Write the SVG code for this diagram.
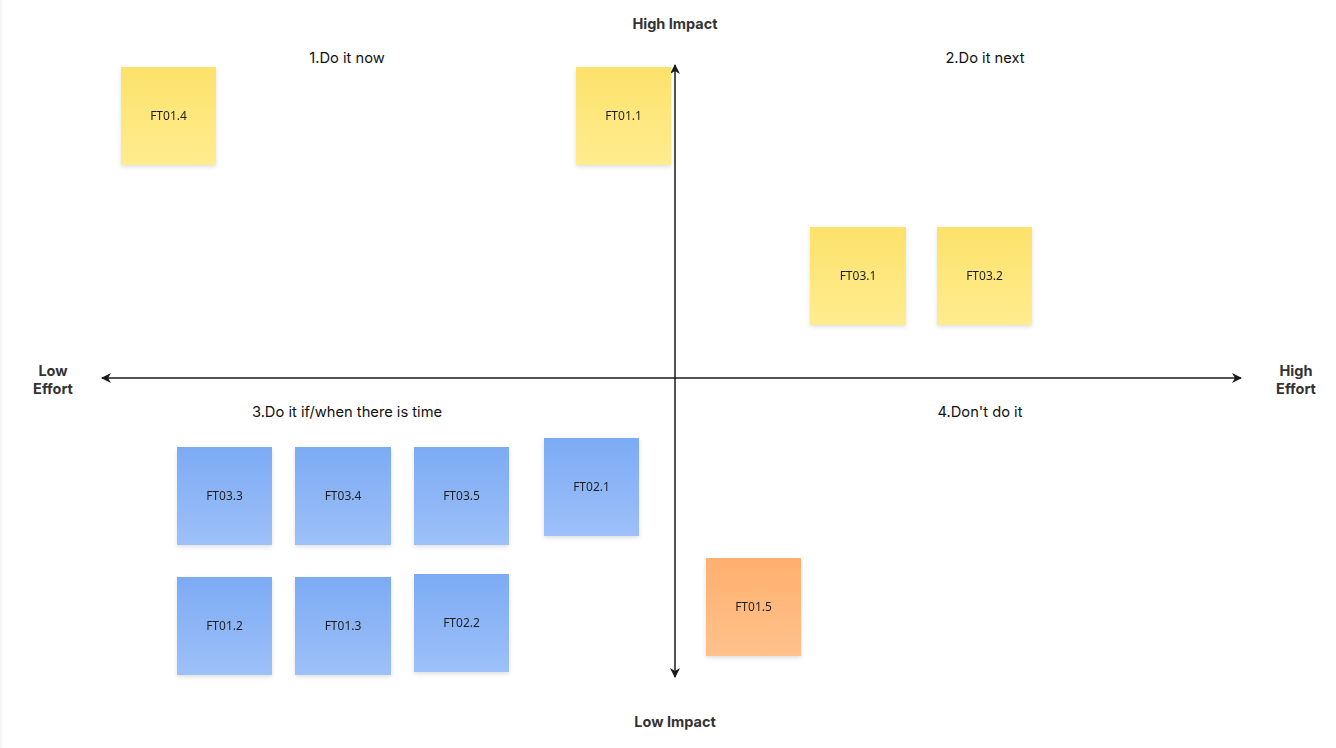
<svg xmlns="http://www.w3.org/2000/svg" width="1336" height="748" viewBox="0 0 1336 748">
<defs>
<linearGradient id="gy" x1="0" y1="0" x2="0" y2="1"><stop offset="0" stop-color="#FCE26A"/><stop offset="1" stop-color="#FFEC8F"/></linearGradient>
<linearGradient id="gb" x1="0" y1="0" x2="0" y2="1"><stop offset="0" stop-color="#7CABF4"/><stop offset="1" stop-color="#9DC0F8"/></linearGradient>
<linearGradient id="go" x1="0" y1="0" x2="0" y2="1"><stop offset="0" stop-color="#FFAF6E"/><stop offset="1" stop-color="#FFC28D"/></linearGradient>
<filter id="sh" x="-20%" y="-20%" width="140%" height="150%"><feDropShadow dx="0" dy="2" stdDeviation="2" flood-color="#000" flood-opacity="0.12"/></filter>
<marker id="ah" viewBox="0 0 10 10" refX="9" refY="5" markerWidth="10" markerHeight="10" markerUnits="userSpaceOnUse" orient="auto-start-reverse"><path d="M0,0 L10,5 L0,10 L3,5 Z" fill="#1a1a1a"/></marker>
</defs>
<style>
.note{filter:url(#sh)}
.nt{font-family:"Noto Sans","Open Sans",sans-serif;font-size:12px;fill:#1f1f1f;text-anchor:middle;dominant-baseline:central}
.q{font-family:"Inter","Open Sans",sans-serif;font-size:14.7px;fill:#111;text-anchor:middle;dominant-baseline:central}
.ax{font-family:"Inter","Open Sans",sans-serif;font-size:14.5px;font-weight:700;fill:#333;text-anchor:middle;dominant-baseline:central}
.axl{stroke:#1a1a1a;stroke-width:1.5;fill:none;marker-start:url(#ah);marker-end:url(#ah)}
</style>
<rect width="1336" height="748" fill="#ffffff"/>
<line x1="1" y1="0" x2="1" y2="748" stroke="#ececec" stroke-width="1"/>
<g id="connectors">
<line class="axl" x1="675" y1="65" x2="675" y2="677"/>
<line class="axl" x1="102" y1="378" x2="1241" y2="378"/>
</g>
<g id="labels">
<text class="ax" x="675" y="23">High Impact</text>
<text class="ax" x="675" y="721">Low Impact</text>
<text class="ax" x="53" y="370">Low</text>
<text class="ax" x="53" y="388">Effort</text>
<text class="ax" x="1296" y="370">High</text>
<text class="ax" x="1296" y="388">Effort</text>
<text class="q" x="347" y="58">1.Do it now</text>
<text class="q" x="985" y="58">2.Do it next</text>
<text class="q" x="347" y="412">3.Do it if/when there is time</text>
<text class="q" x="980" y="412">4.Don't do it</text>
</g>
<g id="FT01.4" class="note"><rect x="121" y="67" width="95" height="98" fill="url(#gy)"/><text class="nt" x="168.5" y="115">FT01.4</text></g>
<g id="FT01.1" class="note"><rect x="576" y="67" width="95" height="98" fill="url(#gy)"/><text class="nt" x="623.5" y="115">FT01.1</text></g>
<g id="FT03.1" class="note"><rect x="810" y="227" width="96" height="98" fill="url(#gy)"/><text class="nt" x="858" y="275">FT03.1</text></g>
<g id="FT03.2" class="note"><rect x="937" y="227" width="95" height="98" fill="url(#gy)"/><text class="nt" x="984.5" y="275">FT03.2</text></g>
<g id="FT03.3" class="note"><rect x="177" y="447" width="95" height="98" fill="url(#gb)"/><text class="nt" x="224.5" y="495">FT03.3</text></g>
<g id="FT03.4" class="note"><rect x="295" y="447" width="96" height="98" fill="url(#gb)"/><text class="nt" x="343" y="495">FT03.4</text></g>
<g id="FT03.5" class="note"><rect x="414" y="447" width="95" height="98" fill="url(#gb)"/><text class="nt" x="461.5" y="495">FT03.5</text></g>
<g id="FT02.1" class="note"><rect x="544" y="438" width="95" height="98" fill="url(#gb)"/><text class="nt" x="591.5" y="486">FT02.1</text></g>
<g id="FT01.2" class="note"><rect x="177" y="577" width="95" height="98" fill="url(#gb)"/><text class="nt" x="224.5" y="625">FT01.2</text></g>
<g id="FT01.3" class="note"><rect x="295" y="577" width="96" height="98" fill="url(#gb)"/><text class="nt" x="343" y="625">FT01.3</text></g>
<g id="FT02.2" class="note"><rect x="414" y="574" width="95" height="98" fill="url(#gb)"/><text class="nt" x="461.5" y="622">FT02.2</text></g>
<g id="FT01.5" class="note"><rect x="706" y="558" width="95" height="98" fill="url(#go)"/><text class="nt" x="753.5" y="606">FT01.5</text></g>
</svg>
